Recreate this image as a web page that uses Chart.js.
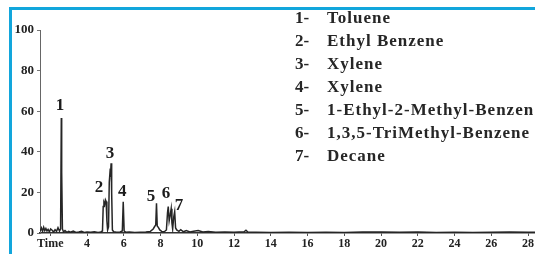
<!DOCTYPE html>
<html>
<head>
<meta charset="utf-8">
<script src="https://cdn.jsdelivr.net/npm/chart.js@4.4.0/dist/chart.umd.min.js"></script>
<style>
  html, body { margin: 0; padding: 0; background: #fff; }
  body { width: 535px; height: 254px; position: relative; overflow: hidden; }
  #frame { position: absolute; left: 9px; top: 7px; width: 540px; height: 260px;
           border-top: 3px solid #12a6dc; border-left: 3px solid #12a6dc; }
  #wrap { position: absolute; left: 0; top: 0; width: 535px; height: 254px; }
</style>
</head>
<body>
<div id="frame"></div>
<div id="wrap"><canvas id="c" width="535" height="254"></canvas></div>
<script>
// Retention time (min) and relative abundance (%)
const times  = [1.45, 1.52, 1.58, 1.64, 1.70, 1.76, 1.82, 1.88, 1.95, 2.02, 2.10, 2.18, 2.26, 2.34, 2.42, 2.50, 2.56, 2.60, 2.62, 2.66, 2.72, 2.80, 2.90, 3.00, 3.10, 3.25, 3.40, 3.55, 3.70, 3.85, 4.00, 4.20, 4.40, 4.60, 4.75, 4.84, 4.88, 4.92, 4.96, 5.00, 5.04, 5.08, 5.12, 5.17, 5.21, 5.25, 5.28, 5.31, 5.34, 5.38, 5.45, 5.60, 5.80, 5.92, 5.97, 6.02, 6.10, 6.30, 6.60, 6.90, 7.20, 7.45, 7.60, 7.68, 7.74, 7.78, 7.82, 7.88, 7.96, 8.06, 8.20, 8.32, 8.38, 8.42, 8.47, 8.53, 8.58, 8.62, 8.66, 8.72, 8.77, 8.82, 8.88, 9.00, 9.10, 9.25, 9.40, 9.60, 9.80, 10.05, 10.30, 10.60, 11.00, 11.50, 12.00, 12.55, 12.65, 12.75, 13.20, 14.00, 15.00, 16.00, 17.00, 18.00, 19.00, 20.00, 21.00, 22.00, 23.00, 24.00, 25.00, 26.00, 27.00, 28.00, 28.40];
const signal = [1.0, 2.5, 0.8, 2.8, 1.2, 2.2, 1.0, 1.8, 0.6, 2.0, 1.4, 0.5, 1.6, 0.8, 2.6, 1.0, 2.0, 56.7, 30.0, 2.0, 0.5, 1.2, 0.3, 0.8, 0.4, 1.0, 0.3, 0.5, 0.9, 0.3, 0.5, 0.4, 0.6, 0.3, 0.5, 1.0, 13.0, 15.0, 14.0, 16.3, 15.5, 6.0, 1.5, 3.0, 25.0, 30.0, 29.0, 34.3, 20.0, 1.5, 0.6, 0.4, 0.5, 1.0, 15.4, 1.0, 0.4, 0.5, 0.3, 0.4, 0.5, 0.8, 2.0, 3.2, 4.0, 14.6, 3.5, 2.8, 1.5, 0.8, 0.6, 1.5, 10.0, 13.0, 6.0, 9.0, 12.0, 5.0, 2.0, 8.0, 10.5, 2.5, 1.5, 0.8, 1.6, 0.6, 1.2, 0.5, 0.9, 1.2, 0.5, 0.7, 0.4, 0.5, 0.4, 0.6, 1.4, 0.5, 0.4, 0.3, 0.4, 0.3, 0.4, 0.3, 0.5, 0.5, 0.4, 0.5, 0.3, 0.4, 0.3, 0.4, 0.5, 0.4, 0.4];

// Peak number labels (position in data units)
const peakIds    = ['1', '2', '3', '4', '5', '6', '7'];
const peakLabelT = [2.53, 4.65, 5.25, 5.91, 7.48, 8.30, 9.01];
const peakLabelV = [62.6, 22.4, 38.9, 20.2, 17.9, 19.2, 13.3];

// Compound legend
const compoundNums  = ['1-', '2-', '3-', '4-', '5-', '6-', '7-'];
const compoundNames = ['Toluene', 'Ethyl Benzene', 'Xylene', 'Xylene', '1-Ethyl-2-Methyl-Benzen', '1,3,5-TriMethyl-Benzene', 'Decane'];

// Axis ticks
const yTicks = [0, 20, 40, 60, 80, 100];
const xTickLabels = ['Time', '4', '6', '8', '10', '12', '14', '16', '18', '20', '22', '24', '26', '28'];
const xTickValues = [2, 4, 6, 8, 10, 12, 14, 16, 18, 20, 22, 24, 26, 28];

const points = times.map((t, i) => ({ x: t, y: signal[i] }));
const serif = '"Liberation Serif", "Times New Roman", serif';

const annotate = {
  id: 'annotate',
  afterDatasetsDraw(chart) {
    const ctx = chart.ctx;
    const xs = chart.scales.x, ys = chart.scales.y;
    ctx.save();
    ctx.fillStyle = '#1c1c1c';
    ctx.font = 'bold 17px ' + serif;
    ctx.textAlign = 'center';
    ctx.textBaseline = 'middle';
    peakIds.forEach((id, i) => {
      ctx.fillText(id, xs.getPixelForValue(peakLabelT[i]), ys.getPixelForValue(peakLabelV[i]));
    });
    // legend block
    ctx.textAlign = 'left';
    ctx.font = 'bold 17px ' + serif;
    ctx.fillStyle = '#262626';
    compoundNums.forEach((n, i) => {
      const y = 19 + 23 * i;
      ctx.letterSpacing = '0px';
      ctx.fillText(n, 295, y);
      ctx.letterSpacing = '1px';
      ctx.fillText(compoundNames[i], 327, y);
    });
    ctx.restore();
  }
};

new Chart(document.getElementById('c'), {
  type: 'line',
  data: {
    datasets: [{
      data: points,
      borderColor: '#262626',
      borderWidth: 1.5,
      pointRadius: 0,
      tension: 0,
      fill: false
    }]
  },
  options: {
    responsive: false,
    animation: false,
    plugins: { legend: { display: false }, tooltip: { enabled: false } },
    layout: { padding: { top: 30, right: 0, bottom: 0, left: 0 } },
    scales: {
      x: {
        type: 'linear',
        min: 1.44,
        max: 28.38,
        afterFit(s) { s.height = 21; },
        afterBuildTicks(s) { s.ticks = xTickValues.map(v => ({ value: v })); },
        ticks: {
          autoSkip: false,
          maxRotation: 0,
          padding: 1,
          color: '#222',
          font: { family: serif, size: 12, weight: 'bold' },
          callback(v) { const k = xTickValues.indexOf(v); return k >= 0 ? xTickLabels[k] : ''; }
        },
        grid: { drawOnChartArea: false, tickLength: 3, color: '#555' },
        border: { color: '#333', width: 1.5 }
      },
      y: {
        min: 0,
        max: 100,
        afterFit(s) { s.width = 40; },
        afterBuildTicks(s) { s.ticks = yTicks.map(v => ({ value: v })); },
        ticks: {
          padding: 3,
          color: '#222',
          font: { family: serif, size: 13, weight: 'bold' }
        },
        grid: { drawOnChartArea: false, tickLength: 3, color: '#777' },
        border: { color: '#666', width: 1, dash: [2, 2] }
      }
    }
  },
  plugins: [annotate]
});
</script>
</body>
</html>
